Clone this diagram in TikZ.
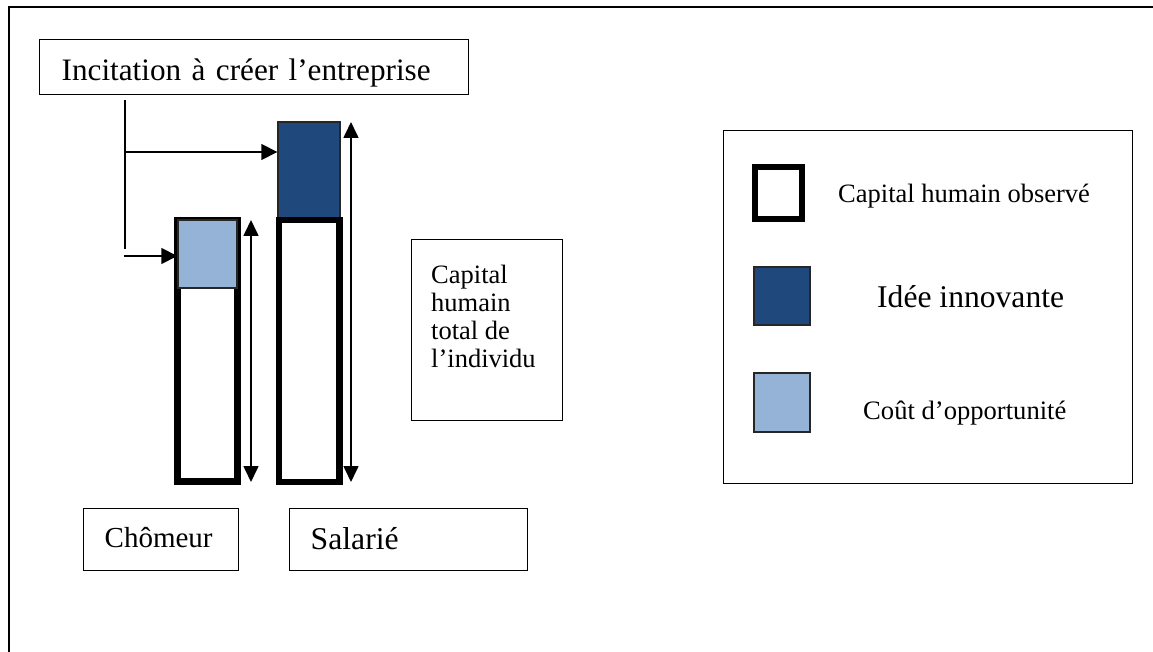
\documentclass[tikz,border=0pt]{standalone}
\usepackage{fontspec}
\setmainfont{Liberation Serif}
\usepackage{tikz}
\usetikzlibrary{arrows.meta}
\definecolor{ideablue}{HTML}{1F497D}
\definecolor{costblue}{HTML}{95B3D7}
\tikzstyle{arrow} = [line width=1.6pt,-{Triangle[width=16pt,length=16pt]}]
\tikzstyle{twoway} = [line width=1.6pt,{Triangle[width=15pt,length=16pt]}-{Triangle[width=15pt,length=16pt]}]
\tikzstyle{box} = [draw, line width=1.4pt, inner ysep=0pt, align=left, anchor=north west]
\tikzstyle{bar} = [draw, line width=6.5pt, inner sep=0pt]
\tikzstyle{cell} = [draw=black!85, line width=1.4pt, inner sep=0pt]

\begin{document}
\begin{tikzpicture}[x=1pt,y=-1pt]
            \useasboundingbox (0,0) rectangle (1153,652);
            \draw[line width=1.6pt] (1153,7) -- (9,7) -- (9,652);
            \node[box, inner xsep=22pt, text width=385pt, text height=41pt, text depth=14pt, font=\fontsize{31.2}{36}\selectfont] (title) at (39,39) {Incitation à créer l’entreprise};
            \node[cell, fill=ideablue, minimum width=62pt, minimum height=98pt] (idea) at (309,171) {};
            \node[bar, minimum width=60.5pt, minimum height=262pt] (salbar) at (309.25,351) {};
            \node[bar, minimum width=60pt, minimum height=261pt] (chombar) at (207.5,351) {};
            \node[cell, fill=costblue, minimum width=59pt, minimum height=68pt] (cost) at (207.5,254) {};
            \coordinate (chomtop) at (251,220);
            \coordinate (chombot) at (251,482);
            \coordinate (saltop) at (351,122);
            \coordinate (salbot) at (351,482);
            \draw[twoway] (chomtop) -- (chombot);
            \draw[twoway] (saltop) -- (salbot);
            \coordinate (stem) at (125,100);
            \coordinate (stemend) at (125,249);
            \coordinate (fork) at (125,152);
            \coordinate (lowstart) at (124,256);
            \draw[line width=1.6pt] (stem) -- (stemend);
            \draw[arrow] (fork) -- (fork -| idea.west);
            \draw[arrow] (lowstart) -- (lowstart -| cost.west);
            \node[box, inner xsep=21pt, text width=113pt, text height=39pt, text depth=23pt, font=\fontsize{29}{33}\selectfont] (chomeur) at (83,508) {Chômeur};
            \node[box, inner xsep=21pt, text width=196pt, text height=41pt, text depth=21pt, font=\fontsize{31.7}{36}\selectfont] (salarie) at (289,508) {Salarié};
            \node[draw, line width=1.4pt, minimum width=151pt, minimum height=181pt, anchor=north west, inner sep=0pt] (total) at (411,239) {};
            \node[anchor=base west, align=left, inner sep=0pt, font=\fontsize{26.5}{28}\selectfont] (totaltext) at (431,367) {Capital\\humain\\total de\\l’individu};
            \node[draw, line width=1.4pt, minimum width=409pt, minimum height=353pt, anchor=north west, inner sep=0pt] (legend) at (723,130) {};
            \node[bar, line width=6pt, minimum width=47pt, minimum height=52pt] (keyobs) at (778.5,193) {};
            \node[cell, fill=ideablue, minimum width=56pt, minimum height=58pt] (keyidea) at (782,296) {};
            \node[cell, fill=costblue, minimum width=56pt, minimum height=59pt] (keycost) at (782,402.5) {};
            \node[anchor=base west, inner sep=0pt, font=\fontsize{26.5}{30}\selectfont] (obstext) at (838,203) {Capital humain observé};
            \node[anchor=base west, inner sep=0pt, font=\fontsize{31.6}{36}\selectfont] (ideatext) at (877,307) {Idée innovante};
            \node[anchor=base west, inner sep=0pt, font=\fontsize{26.6}{30}\selectfont] (costtext) at (863,419) {Coût d’opportunité};
        \end{tikzpicture}
\end{document}
